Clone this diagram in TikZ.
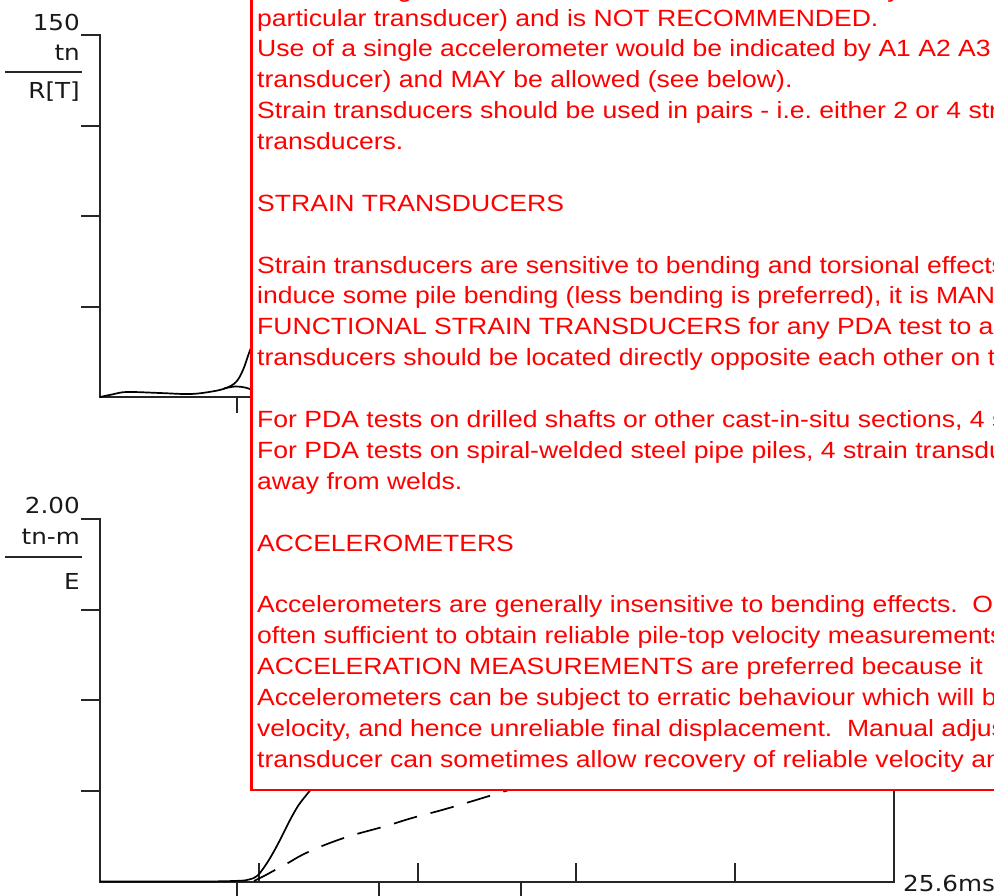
\documentclass[tikz,border=0pt]{standalone}
\usepackage{fontspec}
\newfontfamily\redfont[FakeStretch=1.13]{Liberation Sans}
\newfontfamily\axfont[FakeStretch=1.12]{DejaVu Sans}
\begin{document}
\frenchspacing
\begin{tikzpicture}[x=1pt,y=-1pt,
  axisline/.style={draw=black!85, line width=2pt},
  tickline/.style={draw=black!85, line width=1.5pt},
  curveline/.style={draw=black, line width=1.7pt},
  lbl/.style={font=\axfont\fontsize{22}{26}\selectfont, anchor=base east, inner sep=0pt, text=black!90},
  txt/.style={font=\redfont\fontsize{23.5}{30.9}\selectfont, text=red, anchor=base west, inner sep=0pt},
  notebox/.style={draw=red, line width=2.5pt, fill=white}]
\useasboundingbox (0,0) rectangle (994,895);
\clip (0,0) rectangle (994,895);

% ---------- upper chart ----------
\node[lbl] (u150) at (80,30) {150};
\node[lbl] (utn) at (80,60) {tn};
\node[lbl] (urt) at (80,98) {R[T]};
\draw[tickline] (5,72) -- (82,72);
\draw[axisline] (81,35) -- (100,35) -- (100,397) -- (260,397);
\foreach \yy in {126,216,307} \draw[tickline] (81,\yy) -- (100,\yy);
\draw[tickline] (237,397) -- (237,413);
\draw[curveline] plot[smooth, tension=0.6] coordinates {(100,397) (112,394.5) (127,392) (160,393) (190,394) (212,391.5) (226,388) (236,382) (243,370) (249,353) (254,340)};
\draw[curveline] plot[smooth, tension=0.6] coordinates {(224,388.5) (235,386.5) (245,387.5) (254,390.5)};

% ---------- lower chart ----------
\node[lbl] (l200) at (80,513) {2.00};
\node[lbl] (ltnm) at (80,544) {tn-m};
\node[lbl] (le) at (80,589) {E};
\draw[tickline] (5,557) -- (82,557);
\draw[axisline] (81,519) -- (100,519) -- (100,882) -- (894,882) -- (894,780);
\foreach \yy in {610,700,791} \draw[tickline] (81,\yy) -- (100,\yy);
\foreach \xx in {259,418,576,735} \draw[tickline] (\xx,863) -- (\xx,882);
\foreach \xx in {237,379,521} \draw[tickline] (\xx,882) -- (\xx,897);
\node[font=\axfont\fontsize{22}{26}\selectfont, anchor=base west, inner sep=0pt, text=black!90] (lms) at (903,891) {25.6ms};
\draw[curveline] plot[smooth, tension=0.6] coordinates {(100,881.5) (200,881.5) (238,880.8) (249,879.5) (257,876) (265,866) (273,853) (281,838) (289,822) (298,806) (308,793) (318,781)};
\draw[curveline, dash pattern=on 24pt off 14pt] plot[smooth, tension=0.6] coordinates {(254,881) (264,876) (275,870) (288,863) (302,855) (322,846) (350,836) (386,826) (412,818) (442,810) (476,800) (525,785)};

% ---------- note box ----------
\draw[notebox] (251.5,-20) rectangle (1020,790);
\node[txt] (n0) at (257,-3) {Use of a single strain transducer would be indicated by F1 F2};
\node[txt] (n1) at (257,26) {particular transducer) and is NOT RECOMMENDED.};
\node[txt] (n2) at (257,56.9) {Use of a single accelerometer would be indicated by A1 A2 A3};
\node[txt] (n3) at (257,87.8) {transducer) and MAY be allowed (see below).};
\node[txt] (n4) at (257,118.6) {Strain transducers should be used in pairs - i.e. either 2 or 4 strain};
\node[txt] (n5) at (257,149.5) {transducers.};
\node[txt] (n6) at (257,211.3) {STRAIN TRANSDUCERS};
\node[txt] (n7) at (257,273) {Strain transducers are sensitive to bending and torsional effects};
\node[txt] (n8) at (257,303.9) {induce some pile bending (less bending is preferred), it is MANDATORY};
\node[txt] (n9) at (257,334.8) {FUNCTIONAL STRAIN TRANSDUCERS for any PDA test to a};
\node[txt] (n10) at (257,365.6) {transducers should be located directly opposite each other on the};
\node[txt] (n11) at (257,427.4) {For PDA tests on drilled shafts or other cast-in-situ sections, 4 strain};
\node[txt] (n12) at (257,458.3) {For PDA tests on spiral-welded steel pipe piles, 4 strain transducers};
\node[txt] (n13) at (257,489.1) {away from welds.};
\node[txt] (n14) at (257,551) {ACCELEROMETERS};
\node[txt] (n15) at (257,612.6) {Accelerometers are generally insensitive to bending effects.\ \ One};
\node[txt] (n16) at (257,643.5) {often sufficient to obtain reliable pile-top velocity measurements};
\node[txt] (n17) at (257,674.4) {ACCELERATION MEASUREMENTS are preferred because it};
\node[txt] (n18) at (257,705.2) {Accelerometers can be subject to erratic behaviour which will be};
\node[txt] (n19) at (257,736.1) {velocity, and hence unreliable final displacement.\ \ Manual adjustment};
\node[txt] (n20) at (257,767) {transducer can sometimes allow recovery of reliable velocity and};
\end{tikzpicture}
\end{document}
